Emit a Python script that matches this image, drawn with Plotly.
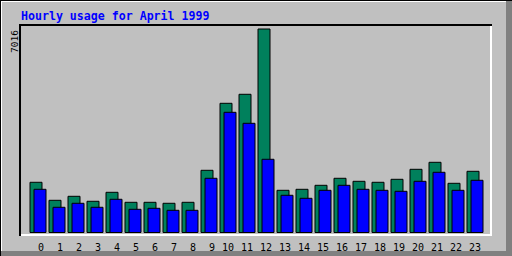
import plotly.graph_objects as go

# ---- data ----
hours = list(range(24))
hour_labels = [("\u00a0" + str(h)) if h < 10 else str(h) for h in hours]
hits = [1731, 1110, 1248, 1076, 1386, 1041, 1041, 1007, 1041, 2144, 4454, 4765, 7016,
        1455, 1489, 1627, 1869, 1765, 1731, 1834, 2179, 2420, 1696, 2110]
files = [1489, 869, 1007, 869, 1145, 800, 834, 765, 765, 1869, 4144, 3765, 2524,
         1283, 1179, 1455, 1627, 1489, 1455, 1420, 1765, 2076, 1455, 1800]
title_text = "Hourly usage for April 1999"
max_label = "7016"

# ---- geometry ----
W, H = 512, 256
L, R, T, B = 21, 490, 26, 234
PW, PH = R - L, B - T
PX_PER_HOUR = 19.0
x0_px = 38.0  # pixel centre of hour 0 pair
xr0 = (L - x0_px) / PX_PER_HOUR
xr1 = xr0 + PW / PX_PER_HOUR
k = (232.5 - 29.0) / 7016.0  # px per unit
yr0 = (232.5 - B) / k
yr1 = yr0 + PH / k

def px(xp):
    return (xp - L) / PW

def py(yp):
    return (B - yp) / PH

GREEN = "#00805c"
BLUE = "#0000ff"
BG = "#c0c0c0"
DARK = "#808080"

fig = go.Figure()
fig.add_trace(go.Bar(x=hours, y=hits, width=12 / PX_PER_HOUR, offset=-8 / PX_PER_HOUR,
                     marker=dict(color=GREEN, line=dict(color="black", width=1)),
                     hoverinfo="skip"))
fig.add_trace(go.Bar(x=hours, y=files, width=12 / PX_PER_HOUR, offset=-4 / PX_PER_HOUR,
                     marker=dict(color=BLUE, line=dict(color="black", width=1)),
                     hoverinfo="skip"))

def rect(x0, y0, x1, y1, color):
    return dict(type="rect", xref="paper", yref="paper",
                x0=px(x0), x1=px(x1), y0=py(y0), y1=py(y1),
                fillcolor=color, line=dict(width=0), layer="above")

shapes = [
    # outer frame
    rect(0, 0, 512, 1, "black"),
    rect(0, 0, 1, 256, "black"),
    rect(1, 1, 506, 2, "white"),
    rect(1, 1, 2, 251, "white"),
    rect(506, 1, 512, 256, DARK),
    rect(1, 251, 512, 256, DARK),
    # inner plot frame
    rect(19, 24, 492, 26, "black"),
    rect(19, 24, 21, 236, "black"),
    rect(490, 26, 492, 236, "white"),
    rect(21, 234, 492, 236, "white"),
]

fig.update_layout(
    width=W, height=H,
    margin=dict(l=L, r=W - R, t=T, b=H - B, pad=0, autoexpand=False),
    paper_bgcolor=BG, plot_bgcolor=BG,
    barmode="overlay", showlegend=False,
    xaxis=dict(range=[xr0, xr1], tickvals=hours, ticktext=hour_labels,
               showgrid=False, zeroline=False, showline=False, ticks="",
               ticklabelstandoff=6, automargin=False,
               tickfont=dict(family="DejaVu Sans Mono", size=10, color="black"),
               fixedrange=True),
    yaxis=dict(range=[yr0, yr1], showgrid=False, zeroline=False, showline=False,
               showticklabels=False, ticks="", fixedrange=True, automargin=False),
    shapes=shapes,
    annotations=[
        dict(text=title_text, xref="paper", yref="paper", x=px(19), y=py(15.5),
             xanchor="left", yanchor="middle", showarrow=False,
             font=dict(family="DejaVu Sans Mono", size=11.6, color=BLUE, weight="bold")),
        dict(text=max_label, xref="paper", yref="paper", x=px(14.5), y=py(28),
             xanchor="center", yanchor="top", textangle=-90, showarrow=False,
             font=dict(family="DejaVu Sans Mono", size=9.5, color="black")),
    ],
)

fig.write_html("out.html", config=dict(displayModeBar=False, staticPlot=True))
